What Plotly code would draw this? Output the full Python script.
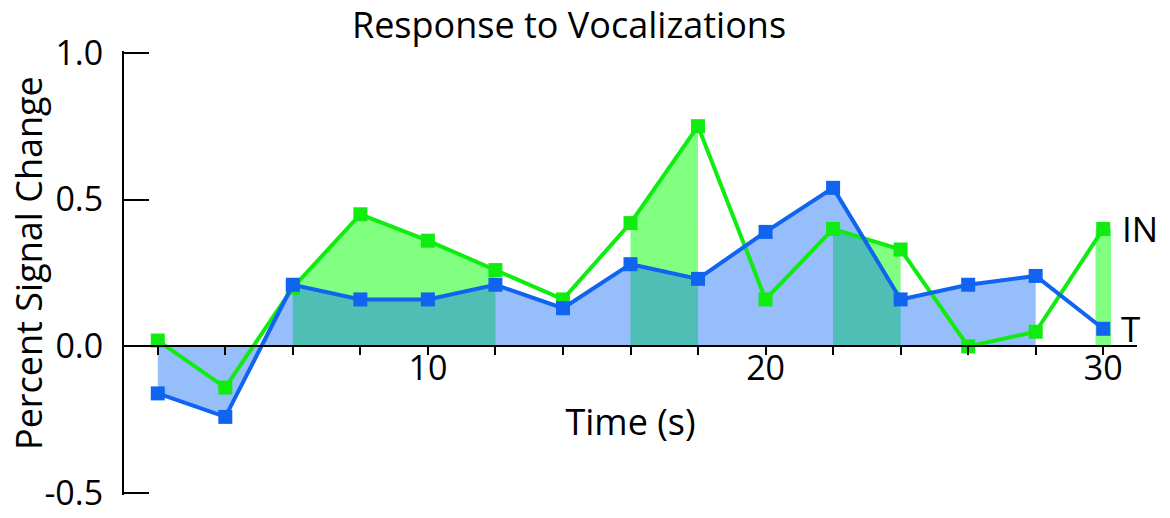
import plotly.graph_objects as go

# Time points (s) and percent signal change for the two regions
time_s = [2, 4, 6, 8, 10, 12, 14, 16, 18, 20, 22, 24, 26, 28, 30]
in_signal = [0.02, -0.14, 0.20, 0.45, 0.36, 0.26, 0.16, 0.42, 0.75, 0.16, 0.40, 0.33, 0.00, 0.05, 0.40]
t_signal = [-0.16, -0.24, 0.21, 0.16, 0.16, 0.21, 0.13, 0.28, 0.23, 0.39, 0.54, 0.16, 0.21, 0.24, 0.06]

# Shaded time windows
in_windows = [(6, 12), (16, 18), (22, 24)]
in_bar_times = [30]
t_window = (2, 28)

# Axis ticks
x_tick_vals = list(range(2, 31, 2))
x_tick_text = ["10" if v == 10 else "20" if v == 20 else "30" if v == 30 else "" for v in x_tick_vals]
y_tick_vals = [-0.5, 0.0, 0.5, 1.0]
y_tick_text = ["-0.5", "0.0", "0.5", "1.0"]

# y range padded a hair so the inside end ticks are kept
Y_MIN, Y_MAX = -0.506, 1.006

GREEN_LINE = "#10EC10"
BLUE_LINE = "#1064F0"
GREEN_FILL = "#80FF80"
BLUE_FILL = "rgba(20,110,245,0.45)"
FONT = "Open Sans"

fig = go.Figure()

# IN shading: filled windows and the single bar at the end
for lo, hi in in_windows:
    xs = [t for t in time_s if lo <= t <= hi]
    ys = [v for t, v in zip(time_s, in_signal) if lo <= t <= hi]
    fig.add_trace(go.Scatter(x=xs, y=ys, mode="none", fill="tozeroy",
                             fillcolor=GREEN_FILL, hoverinfo="skip", showlegend=False))
fig.add_trace(go.Bar(x=in_bar_times,
                     y=[v for t, v in zip(time_s, in_signal) if t in in_bar_times],
                     width=0.46, marker=dict(color=GREEN_FILL, line=dict(width=0)),
                     hoverinfo="skip", showlegend=False))

# T shading (translucent, so overlap with IN reads teal)
xs = [t for t in time_s if t_window[0] <= t <= t_window[1]]
ys = [v for t, v in zip(time_s, t_signal) if t_window[0] <= t <= t_window[1]]
fig.add_trace(go.Scatter(x=xs, y=ys, mode="none", fill="tozeroy",
                         fillcolor=BLUE_FILL, hoverinfo="skip", showlegend=False))

# Lines with square markers
fig.add_trace(go.Scatter(x=time_s, y=in_signal, mode="lines+markers", name="IN",
                         line=dict(color=GREEN_LINE, width=4),
                         marker=dict(symbol="square", size=14, color=GREEN_LINE),
                         showlegend=False))
fig.add_trace(go.Scatter(x=time_s, y=t_signal, mode="lines+markers", name="T",
                         line=dict(color=BLUE_LINE, width=4),
                         marker=dict(symbol="square", size=14, color=BLUE_LINE),
                         showlegend=False))

# End-of-line series labels
fig.add_annotation(x=time_s[-1], y=in_signal[-1], text="IN", showarrow=False,
                   xanchor="left", xshift=17, font=dict(family=FONT, size=35, color="black"))
fig.add_annotation(x=time_s[-1], y=t_signal[-1], text="T", showarrow=False,
                   xanchor="left", xshift=16, font=dict(family=FONT, size=35, color="black"))

# Rotated y-axis title
fig.add_annotation(xref="paper", yref="paper", x=(28 - 124) / 1013, y=(495 - 263) / 444,
                   text="Percent Signal Change", textangle=-90, showarrow=False,
                   xanchor="center", yanchor="middle",
                   font=dict(family=FONT, size=36, color="black"))

fig.update_layout(
    width=1170, height=518,
    margin=dict(l=124, r=33, t=51, b=23, autoexpand=False),
    paper_bgcolor="white", plot_bgcolor="white",
    font=dict(family=FONT, size=35, color="black"),
    title=dict(text="Response to Vocalizations", x=569 / 1170, xanchor="center",
               y=1 - 25 / 518, yanchor="middle", yref="container",
               font=dict(family=FONT, size=36, color="black")),
    xaxis=dict(range=[1, 31], anchor="free", position=(0 - Y_MIN) / (Y_MAX - Y_MIN),
               automargin=False,
               showline=True, linecolor="black", linewidth=2,
               ticks="outside", ticklen=8, tickwidth=2, tickcolor="black",
               tickvals=x_tick_vals, ticktext=x_tick_text,
               tickfont=dict(size=34), ticklabelstandoff=-16,
               showgrid=False, zeroline=False,
               title=dict(text="Time (s)", standoff=20, font=dict(size=36))),
    yaxis=dict(range=[Y_MIN, Y_MAX], automargin=False,
               showline=True, linecolor="black", linewidth=2,
               ticks="inside", ticklen=25, tickwidth=2, tickcolor="black",
               tickvals=y_tick_vals, ticktext=y_tick_text,
               tickfont=dict(size=34), ticklabelstandoff=12,
               showgrid=False, zeroline=False),
)

fig.write_html("out.html")
